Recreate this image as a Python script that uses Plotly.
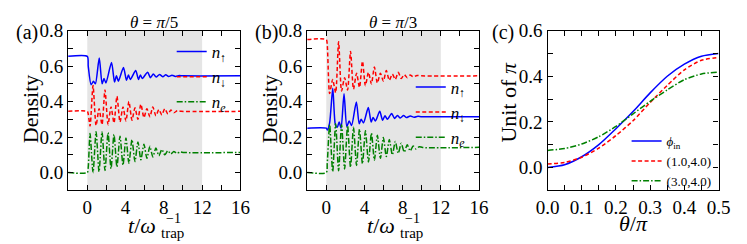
import plotly.graph_objects as go

# ---------------- data ----------------
a_up_t = [-2, 0, 0.1, 0.4, 0.65, 0.85, 1.25, 1.55, 1.75, 1.95, 2.53, 2.85, 3.05, 3.25, 3.78, 4.1, 4.3, 4.5,
          5.06, 5.35, 5.55, 5.75, 6.3, 6.6, 6.9, 7.2, 7.55, 7.9, 8.2, 8.5, 8.85, 9.2, 9.6, 10.0, 16]
a_up_v = [0.655, 0.655, 0.6, 0.495, 0.515, 0.50, 0.645, 0.50, 0.53, 0.505, 0.62, 0.51, 0.545, 0.515, 0.592,
          0.52, 0.55, 0.525, 0.575, 0.525, 0.55, 0.53, 0.565, 0.535, 0.555, 0.538, 0.553, 0.54, 0.551, 0.541,
          0.549, 0.542, 0.547, 0.545, 0.545]
a_dn_t = [-2, 0, 0.1, 0.29, 0.6, 0.92, 1.23, 1.54, 1.85, 2.17, 2.48, 2.79, 3.1, 3.42, 3.73, 4.04, 4.35, 4.67,
          4.98, 5.29, 5.6, 5.92, 6.23, 6.54, 6.85, 7.17, 7.48, 7.79, 8.1, 8.42, 8.73, 9.04, 9.4, 9.8, 16]
a_dn_v = [0.345, 0.345, 0.33, 0.262, 0.49, 0.265, 0.36, 0.27, 0.466, 0.27, 0.37, 0.28, 0.43, 0.285, 0.37,
          0.29, 0.40, 0.295, 0.365, 0.30, 0.385, 0.31, 0.36, 0.315, 0.37, 0.32, 0.355, 0.325, 0.36, 0.33,
          0.352, 0.337, 0.348, 0.345, 0.345]
a_e_t = [-2, 0, 0.1, 0.29, 0.6, 0.92, 1.23, 1.54, 1.85, 2.17, 2.48, 2.79, 3.1, 3.42, 3.73, 4.04, 4.35, 4.67,
         4.98, 5.29, 5.6, 5.92, 6.23, 6.54, 6.85, 7.17, 7.48, 7.79, 8.1, 8.42, 8.73, 9.04, 9.35, 9.7, 10.1, 16]
a_e_v = [0.0, 0.0, 0.03, 0.22, 0.0, 0.23, 0.005, 0.23, 0.012, 0.225, 0.022, 0.215, 0.032, 0.205, 0.042,
         0.195, 0.052, 0.185, 0.062, 0.172, 0.072, 0.16, 0.08, 0.148, 0.088, 0.138, 0.095, 0.13, 0.1, 0.123,
         0.105, 0.119, 0.109, 0.116, 0.113, 0.113]

b_up_t = [-2, 0, 0.12, 0.35, 0.68, 0.95, 1.15, 1.35, 1.55, 1.86, 2.15, 2.4, 2.65, 3.15, 3.45, 3.65, 3.9, 4.4,
          4.7, 4.9, 5.15, 5.6, 5.9, 6.15, 6.4, 6.85, 7.15, 7.45, 7.75, 8.1, 8.4, 8.8, 9.2, 9.6, 10.0, 16]
b_up_v = [0.25, 0.25, 0.24, 0.28, 0.475, 0.27, 0.255, 0.285, 0.25, 0.444, 0.26, 0.29, 0.265, 0.397, 0.275,
          0.30, 0.28, 0.366, 0.285, 0.31, 0.29, 0.345, 0.295, 0.32, 0.30, 0.333, 0.305, 0.322, 0.308, 0.322,
          0.31, 0.319, 0.312, 0.317, 0.315, 0.315]
b_dn_t = [-2, 0, 0.1, 0.35, 0.67, 0.98, 1.29, 1.6, 1.92, 2.23, 2.54, 2.85, 3.17, 3.48, 3.79, 4.1, 4.42, 4.73,
          5.04, 5.35, 5.67, 5.98, 6.29, 6.6, 6.92, 7.23, 7.54, 7.85, 8.17, 8.48, 8.79, 9.1, 9.5, 9.9, 16]
b_dn_v = [0.75, 0.75, 0.72, 0.445, 0.525, 0.45, 0.737, 0.46, 0.535, 0.465, 0.683, 0.47, 0.56, 0.48, 0.628,
          0.49, 0.565, 0.50, 0.595, 0.505, 0.56, 0.515, 0.575, 0.52, 0.555, 0.525, 0.565, 0.53, 0.552, 0.535,
          0.55, 0.54, 0.547, 0.545, 0.545]
b_e_t = [-2, 0, 0.1, 0.35, 0.67, 0.98, 1.29, 1.6, 1.92, 2.23, 2.54, 2.85, 3.17, 3.48, 3.79, 4.1, 4.42, 4.73,
         5.04, 5.35, 5.67, 5.98, 6.29, 6.6, 6.92, 7.23, 7.54, 7.85, 8.17, 8.48, 8.79, 9.1, 9.4, 9.75, 10.1, 16]
b_e_v = [0.0, 0.0, 0.05, 0.27, 0.005, 0.275, 0.01, 0.27, 0.02, 0.265, 0.03, 0.255, 0.04, 0.245, 0.05, 0.235,
         0.06, 0.222, 0.07, 0.21, 0.08, 0.198, 0.09, 0.186, 0.1, 0.175, 0.108, 0.165, 0.115, 0.157, 0.122,
         0.15, 0.133, 0.146, 0.141, 0.142]

c_theta = [0.0, 0.05, 0.1, 0.15, 0.2, 0.25, 0.3, 0.35, 0.4, 0.45, 0.5]
c_phi_in = [0.0, 0.012, 0.047, 0.10, 0.17, 0.245, 0.327, 0.40, 0.453, 0.488, 0.5]
c_p1 = [0.015, 0.022, 0.045, 0.085, 0.14, 0.205, 0.285, 0.36, 0.428, 0.47, 0.482]
c_p3 = [0.075, 0.083, 0.103, 0.135, 0.18, 0.235, 0.29, 0.34, 0.385, 0.41, 0.418]

shade_t0, shade_t1 = 0, 12

# ---------------- figure ----------------
W, H = 747, 244
SERIF = "Liberation Serif, Times New Roman, serif"
BLUE, RED, GREEN = "#0000ff", "#ff0000", "#008000"
DASH = "4px,2.5px"
DASHDOT = "6px,2px,1.5px,2px"

def px(x):
    return x / W

def py(y):
    return 1 - y / H

fig = go.Figure()

def add(xs, ys, name, color, dash, xa, ya, leg, width=1.5):
    fig.add_trace(go.Scatter(
        x=xs, y=ys, name=name, mode="lines",
        line=dict(color=color, dash=dash, width=width, shape="spline", smoothing=0.7),
        xaxis=xa, yaxis=ya, legend=leg))

NUP = "<i>n</i><sub>↑</sub>"
NDN = "<i>n</i><sub>↓</sub>"
NE = "<i>n</i><sub><i>e</i></sub>"

add(a_up_t, a_up_v, NUP, BLUE, "solid", "x", "y", "legend")
add(a_dn_t, a_dn_v, NDN, RED, DASH, "x", "y", "legend")
add(a_e_t, a_e_v, NE, GREEN, DASHDOT, "x", "y", "legend")

add(b_up_t, b_up_v, NUP, BLUE, "solid", "x2", "y2", "legend2")
add(b_dn_t, b_dn_v, NDN, RED, DASH, "x2", "y2", "legend2")
add(b_e_t, b_e_v, NE, GREEN, DASHDOT, "x2", "y2", "legend2")

add(c_theta, c_phi_in, "<i>ϕ</i><sub>in</sub>", BLUE, "solid", "x3", "y3", "legend3")
add(c_theta, c_p1, "(1.0,4.0)", RED, DASH, "x3", "y3", "legend3")
add(c_theta, c_p3, "(3.0,4.0)", GREEN, DASHDOT, "x3", "y3", "legend3")

YT, YB = 21.5, 188
ydom = [py(YB), py(YT)]
A_L, A_R = 58, 236
B_L, B_R = 305, 482.5
C_L, C_R = 553.3, 730

axbase = dict(showline=True, linecolor="black", linewidth=1.2, mirror="allticks",
              ticks="inside", ticklen=5, tickwidth=1, tickcolor="black",
              showgrid=False, zeroline=False,
              tickfont=dict(family=SERIF, size=19, color="black"))

def xax(dom, rng, dtick, minor, anchor, fmt=None):
    d = dict(axbase, domain=dom, range=rng, dtick=dtick, tick0=0, anchor=anchor,
             minor=dict(dtick=minor, ticks="inside", ticklen=5, tickwidth=1, tickcolor="black", tick0=0))
    if fmt:
        d["tickformat"] = fmt
    return d

def yax(rng, dtick, minor, anchor):
    return dict(axbase, domain=ydom, range=rng, dtick=dtick, tick0=0, anchor=anchor, tickformat=".1f",
                minor=dict(dtick=minor, ticks="inside", ticklen=5, tickwidth=1, tickcolor="black", tick0=0))

fig.update_layout(
    width=W, height=H, margin=dict(l=0, r=0, t=0, b=0),
    paper_bgcolor="white", plot_bgcolor="white",
    font=dict(family=SERIF, color="black"),
    xaxis=xax([px(A_L), px(A_R)], [-2, 16], 4, 2, "y"),
    yaxis=yax([-0.1, 0.8], 0.2, 0.1, "x"),
    xaxis2=xax([px(B_L), px(B_R)], [-2, 16], 4, 2, "y2"),
    yaxis2=yax([-0.1, 0.8], 0.2, 0.1, "x2"),
    xaxis3=xax([px(C_L), px(C_R)], [0, 0.5], 0.1, 0.05, "y3", ".1f"),
    yaxis3=yax([-0.1, 0.6], 0.2, 0.1, "x3"),
)

legbase = dict(bgcolor="rgba(0,0,0,0)", borderwidth=0, xanchor="left", yanchor="top",
               tracegroupgap=0)
fig.update_layout(
    legend=dict(legbase, x=px(165), y=py(25), font=dict(family=SERIF, size=17, color="black")),
    legend2=dict(legbase, x=px(412), y=py(62), font=dict(family=SERIF, size=17, color="black")),
    legend3=dict(legbase, x=px(635), y=py(121), font=dict(family=SERIF, size=13, color="black")),
)

for xr in ["x", "x2"]:
    yr = "y domain" if xr == "x" else "y2 domain"
    fig.add_shape(type="rect", xref=xr, yref=yr, x0=shade_t0, x1=shade_t1, y0=0, y1=1,
                  fillcolor="#e5e5e5", line=dict(width=0), layer="below")

def ann(text, x, y, size, xanchor="center", angle=0):
    fig.add_annotation(text=text, x=px(x), y=py(y), xref="paper", yref="paper", showarrow=False,
                       xanchor=xanchor, yanchor="middle", textangle=angle,
                       font=dict(family=SERIF, size=size, color="black"))

for off, lab, title in [(0, "(a)", "<i>θ</i> = <i>π</i>/5"), (247, "(b)", "<i>θ</i> = <i>π</i>/3")]:
    ann(lab, 16 + off, 23, 20)
    ann(title, 147 + off, 13, 17)
    ann("Density", 19 + off, 103, 22, angle=-90)
    ann("<i>t</i>/<i>ω</i>", 151 + off, 225, 22, xanchor="right")
    ann("−1", 157 + off, 217, 14, xanchor="left")
    ann("trap", 152 + off, 233, 15, xanchor="left")

ann("(c)", 507, 23, 20)
ann("Unit of <i>π</i>", 513, 97, 22, angle=-90)
ann("<i>θ</i>/<i>π</i>", 642, 223, 22)

fig.write_html("out.html", config={"displayModeBar": False},
               post_script="document.body.style.margin='0px';document.body.style.overflow='hidden';")
